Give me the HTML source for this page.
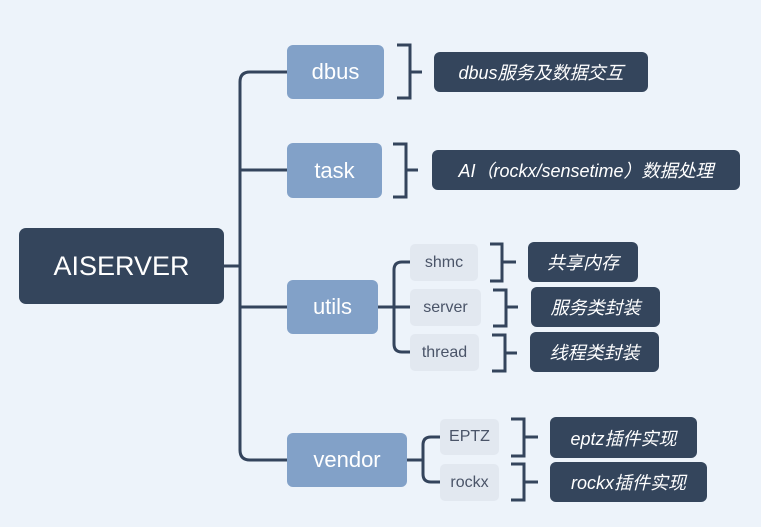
<!DOCTYPE html><html><head><style>
body{margin:0;width:761px;height:527px;background:#edf3fa;position:relative;overflow:hidden;font-family:"Liberation Sans","Noto Sans CJK SC",sans-serif}
.b{position:absolute;display:flex;align-items:center;justify-content:center;box-sizing:border-box}
.m{background:#82a1c8;color:#fff;font-size:22px;border-radius:6px}
.s{background:#e2e8f0;color:#4a5468;font-size:16px;border-radius:5px}
.d{background:#34455c;color:#fff;font-size:18px;font-style:italic;border-radius:6px}
</style></head><body>
<svg width="761" height="527" style="position:absolute;left:0;top:0" fill="none" stroke="#34445c" stroke-width="3">
<path d="M224 266H240"/>
<path d="M287 72H250Q240 72 240 82V450Q240 460 250 460H287"/>
<path d="M240 170H287M240 307H287"/>
<path d="M378 307H394"/>
<path d="M410 262H402Q394 262 394 270V344Q394 352 402 352H410M394 307H410"/>
<path d="M407 460H423"/>
<path d="M440 437H431Q423 437 423 445V474Q423 482 431 482H440"/>
<path d="M397 45H410V98H397M410 72H422"/>
<path d="M393 144H406V197H393M406 170H418"/>
<path d="M490 244H502V281H490M502 262H516"/>
<path d="M493 290H506V326H493M506 307H518"/>
<path d="M492 335H505V371H492M505 353H517"/>
<path d="M511 419H524V456H511M524 437H538"/>
<path d="M511 464H524V500H511M524 482H538"/>
</svg>
<div class="b" style="left:19px;top:228px;width:205px;height:76px;background:#34455c;color:#fff;font-size:27px;border-radius:7px">AISERVER</div>
<div class="b m" style="left:287px;top:45px;width:97px;height:54px">dbus</div>
<div class="b m" style="left:287px;top:143px;width:95px;height:55px">task</div>
<div class="b m" style="left:287px;top:280px;width:91px;height:54px">utils</div>
<div class="b m" style="left:287px;top:433px;width:120px;height:54px">vendor</div>
<div class="b s" style="left:410px;top:244px;width:68px;height:37px">shmc</div>
<div class="b s" style="left:410px;top:289px;width:71px;height:37px">server</div>
<div class="b s" style="left:410px;top:334px;width:69px;height:37px">thread</div>
<div class="b s" style="left:440px;top:419px;width:59px;height:36px">EPTZ</div>
<div class="b s" style="left:440px;top:464px;width:59px;height:37px">rockx</div>
<div class="b d" style="left:434px;top:52px;width:214px;height:40px">dbus服务及数据交互</div>
<div class="b d" style="left:432px;top:150px;width:308px;height:40px">AI（rockx/sensetime）数据处理</div>
<div class="b d" style="left:528px;top:242px;width:110px;height:40px">共享内存</div>
<div class="b d" style="left:531px;top:287px;width:129px;height:40px">服务类封装</div>
<div class="b d" style="left:530px;top:332px;width:129px;height:40px">线程类封装</div>
<div class="b d" style="left:550px;top:417px;width:147px;height:41px">eptz插件实现</div>
<div class="b d" style="left:550px;top:462px;width:157px;height:40px">rockx插件实现</div>
</body></html>
